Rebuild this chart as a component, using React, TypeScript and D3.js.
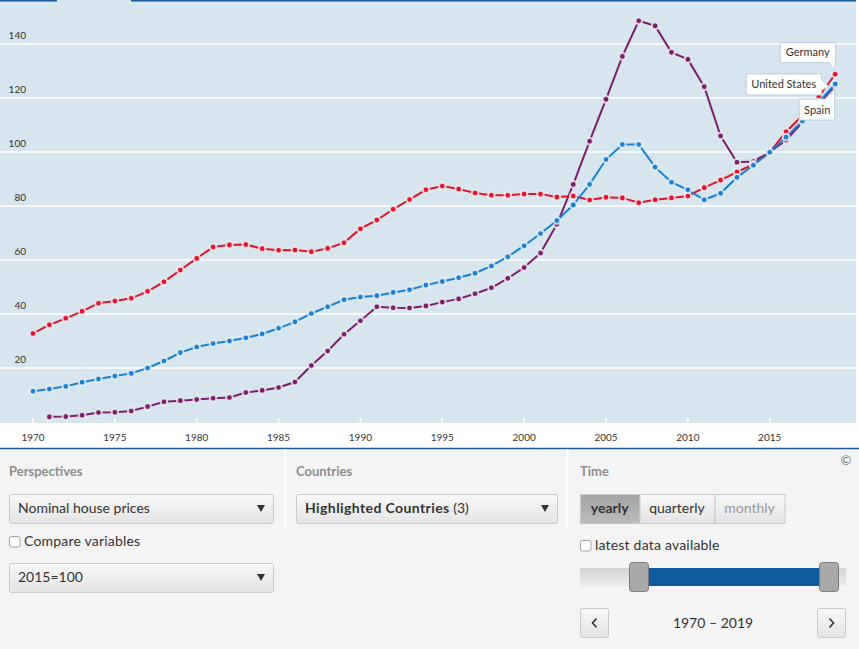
import React from 'react';
import * as d3 from 'd3';

// Nominal house prices, 2015=100
const years = d3.range(1970, 2020);

const germany = [
  32.8, 36.0, 38.4, 41.0, 44.0, 44.8, 45.8, 48.4, 51.9, 56.3,
  60.6, 64.8, 65.6, 65.7, 64.2, 63.6, 63.7, 63.1, 64.3, 66.4,
  71.6, 74.8, 78.8, 82.4, 86.0, 87.4, 86.3, 84.8, 84.0, 84.0,
  84.4, 84.4, 83.3, 83.7, 82.2, 83.2, 83.0, 81.2, 82.3, 83.0,
  83.7, 86.8, 89.6, 92.6, 95.4, 99.9, 107.5, 113.5, 120.5, 128.8,
];

const unitedStates = [
  11.4, 12.2, 13.2, 14.7, 15.9, 17.0, 18.0, 20.0, 22.6, 25.7,
  27.8, 29.1, 30.0, 31.2, 32.6, 34.7, 37.1, 40.2, 42.7, 45.3,
  46.3, 46.8, 48.0, 49.0, 50.7, 52.0, 53.4, 55.1, 57.8, 61.2,
  65.3, 69.8, 74.6, 80.4, 88.0, 97.2, 102.8, 102.8, 94.4, 88.8,
  86.0, 82.3, 84.7, 90.6, 95.1, 99.9, 105.5, 111.5, 118.5, 125.2,
];

const spain: (number | null)[] = [
  null, 1.9, 2.0, 2.5, 3.5, 3.6, 4.1, 5.7, 7.5, 7.9,
  8.3, 8.8, 9.1, 10.9, 11.7, 12.8, 14.8, 20.9, 26.3, 32.5,
  37.5, 42.7, 42.3, 42.2, 43.0, 44.4, 45.6, 47.5, 49.7, 53.2,
  57.2, 62.6, 73.2, 88.0, 104.0, 119.5, 135.4, 148.6, 146.7, 136.9,
  134.3, 124.2, 105.9, 96.2, 96.5, 99.9, 104.4, 111.0, 117.8, 124.6,
];

const yTicks = [20, 40, 60, 80, 100, 120, 140];
const xTicks = [1970, 1975, 1980, 1985, 1990, 1995, 2000, 2005, 2010, 2015];

const series = [
  { name: 'Spain', values: spain, color: '#7f1d6d' },
  { name: 'Germany', values: germany, color: '#e2132c' },
  { name: 'United States', values: unitedStates, color: '#1b7fd6' },
];

const W = 859;
const H = 649;
const FONT = 'Lato, "Open Sans", sans-serif';

const x = d3.scaleLinear().domain([1970, 2019]).range([33, 835.2]);
const y = d3.scaleLinear().domain([0, 140]).range([422, 44]);

const Dropdown = ({ x0, y0, w, children }: { x0: number; y0: number; w: number; children: React.ReactNode }) => (
  <g>
    <rect x={x0 + 0.5} y={y0 + 0.5} width={w} height={29} rx={2} fill="url(#btnGrad)" stroke="#c9c9c9" />
    <text x={x0 + 9} y={y0 + 19} fontSize={14} fill="#333">{children}</text>
    <path d={`M${x0 + w - 16},${y0 + 11} h8 l-4,7 z`} fill="#333" />
  </g>
);

const Checkbox = ({ x0, y0, label }: { x0: number; y0: number; label: string }) => (
  <g>
    <rect x={x0 + 0.5} y={y0 + 0.5} width={10.5} height={10.5} rx={2} fill="#fff" stroke="#a0a0a0" />
    <text x={x0 + 15} y={y0 + 9.5} fontSize={14} fill="#333" letterSpacing={0.2}>{label}</text>
  </g>
);

export default function App() {
  const line = d3.line<number | null>()
    .defined(d => d !== null)
    .x((_, i) => x(years[i]))
    .y(d => y(d as number));

  const gx = x(2019);
  const gy = y(germany[germany.length - 1]);
  const uy = y(unitedStates[unitedStates.length - 1]);
  const sy = y(spain[spain.length - 1] as number);

  const segX = [580, 639.5, 714.5, 784.5];
  const segLabels = ['yearly', 'quarterly', 'monthly'];

  return (
    <div style={{ position: 'absolute', left: 0, top: 0, width: W, height: H }}>
      <svg width={W} height={H} style={{ display: 'block', fontFamily: FONT }}>
        <defs>
          <linearGradient id="btnGrad" x1="0" x2="0" y1="0" y2="1">
            <stop offset="0" stopColor="#f8f8f8" />
            <stop offset="1" stopColor="#e4e4e4" />
          </linearGradient>
          <linearGradient id="activeGrad" x1="0" x2="0" y1="0" y2="1">
            <stop offset="0" stopColor="#a3a3a3" />
            <stop offset="1" stopColor="#bcbcbc" />
          </linearGradient>
          <linearGradient id="trackGrad" x1="0" x2="0" y1="0" y2="1">
            <stop offset="0" stopColor="#d4d4d4" />
            <stop offset="1" stopColor="#ececec" />
          </linearGradient>
        </defs>

        <rect width={W} height={H} fill="#fff" />
        {/* plot area */}
        <rect x={0} y={0} width={856} height={423} fill="#d7e5ef" />
        <line x1={0} x2={57} y1={0.75} y2={0.75} stroke="#1a5d9e" strokeWidth={1.5} />
        <line x1={131} x2={856} y1={0.75} y2={0.75} stroke="#1a5d9e" strokeWidth={1.5} />

        {yTicks.map(t => (
          <g key={t}>
            <line x1={0} x2={856} y1={y(t)} y2={y(t)} stroke="#fff" strokeWidth={1.3} />
            <text x={26} y={y(t) - 5} textAnchor="end" fontSize={10} fill="#333">{t}</text>
          </g>
        ))}

        {xTicks.map(t => (
          <g key={t}>
            <line x1={x(t)} x2={x(t)} y1={418} y2={423} stroke="#fff" strokeWidth={1.5} />
            <text x={x(t)} y={441} textAnchor="middle" fontSize={10} fill="#333">{t}</text>
          </g>
        ))}

        {series.map(s => (
          <g key={s.name}>
            <path d={line(s.values) ?? ''} fill="none" stroke={s.color} strokeWidth={2} />
            {s.values.map((v, i) => v === null ? null : (
              <circle key={i} cx={x(years[i])} cy={y(v)} r={3.3} fill={s.color}
                stroke="#eef4f8" strokeOpacity={0.8} strokeWidth={2} />
            ))}
          </g>
        ))}

        {/* callout labels */}
        <g fontSize={11} fill="#333">
          <path d={`M${gx - 55},${gy - 31.5} H${gx + 0.5} V${gy - 17} L${gx - 0.5},${gy - 3} L${gx - 6},${gy - 11.5} H${gx - 55} Z`}
            fill="#fff" stroke="#b7cfe2" />
          <text x={gx - 27.5} y={gy - 18} textAnchor="middle">Germany</text>

          <path d={`M${gx - 89},${uy - 10} H${gx - 13.5} V${uy - 4} L${gx - 6},${uy + 3} L${gx - 13.5},${uy + 6} V${uy + 11} H${gx - 89} Z`}
            fill="#fff" stroke="#b7cfe2" />
          <text x={gx - 51.5} y={uy + 4.5} textAnchor="middle">United States</text>

          <path d={`M${gx - 36},${sy + 13.5} H${gx - 10} L${gx - 0.5},${sy + 4} V${sy + 34.5} H${gx - 36} Z`}
            fill="#fff" stroke="#b7cfe2" />
          <text x={gx - 18} y={sy + 28} textAnchor="middle">Spain</text>
        </g>

        {/* controls panel */}
        <rect x={0} y={449} width={W} height={200} fill="#f4f4f4" />
        <line x1={0} x2={W} y1={448.5} y2={448.5} stroke="#1a5d9e" strokeWidth={1.5} />
        <line x1={285.5} x2={285.5} y1={449} y2={530} stroke="#fff" strokeWidth={2} />
        <line x1={567.5} x2={567.5} y1={449} y2={530} stroke="#fff" strokeWidth={2} />

        <g fontSize={13} fontWeight="bold" fill="#8e8e8e">
          <text x={9} y={476}>Perspectives</text>
          <text x={296} y={476}>Countries</text>
          <text x={580} y={476}>Time</text>
        </g>
        <text x={846} y={465} fontSize={13} textAnchor="middle" fill="#7a7a7a">©</text>

        <Dropdown x0={9} y0={494} w={264}>Nominal house prices</Dropdown>
        <Checkbox x0={9} y0={536} label="Compare variables" />
        <Dropdown x0={9} y0={563} w={264}>2015=100</Dropdown>

        <Dropdown x0={296} y0={494} w={261}>
          <tspan fontWeight="bold" letterSpacing={0.4}>Highlighted Countries</tspan>
          <tspan> (3)</tspan>
        </Dropdown>

        {/* yearly / quarterly / monthly */}
        {segLabels.map((lab, i) => (
          <g key={lab}>
            <rect x={segX[i] + 0.5} y={494.5} width={segX[i + 1] - segX[i]} height={29}
              fill={i === 0 ? 'url(#activeGrad)' : 'url(#btnGrad)'} stroke="#c9c9c9" />
            <text x={(segX[i] + segX[i + 1]) / 2} y={513} textAnchor="middle" fontSize={14}
              fontWeight={i === 0 ? 'bold' : 'normal'} fill={i === 2 ? '#9a9a9a' : '#333'}>{lab}</text>
          </g>
        ))}

        <Checkbox x0={580} y0={540} label="latest data available" />

        {/* range slider */}
        <rect x={580} y={568} width={266} height={18} fill="url(#trackGrad)" />
        <rect x={648} y={568} width={172} height={18} fill="#0f5a9c" />
        <rect x={629.5} y={562.5} width={19} height={29} rx={3} fill="#a9a9a9" stroke="#7c7c7c" />
        <rect x={819.5} y={562.5} width={19} height={29} rx={3} fill="#a9a9a9" stroke="#7c7c7c" />

        <rect x={580.5} y={608.5} width={28} height={29} rx={2} fill="url(#btnGrad)" stroke="#c9c9c9" />
        <path d="M596.5,618.5 l-4,4.5 l4,4.5" fill="none" stroke="#333" strokeWidth={1.6} />
        <rect x={817.5} y={608.5} width={28} height={29} rx={2} fill="url(#btnGrad)" stroke="#c9c9c9" />
        <path d="M829.5,618.5 l4,4.5 l-4,4.5" fill="none" stroke="#333" strokeWidth={1.6} />
        <text x={713} y={628} textAnchor="middle" fontSize={14} fill="#333">1970 – 2019</text>
      </svg>
    </div>
  );
}
